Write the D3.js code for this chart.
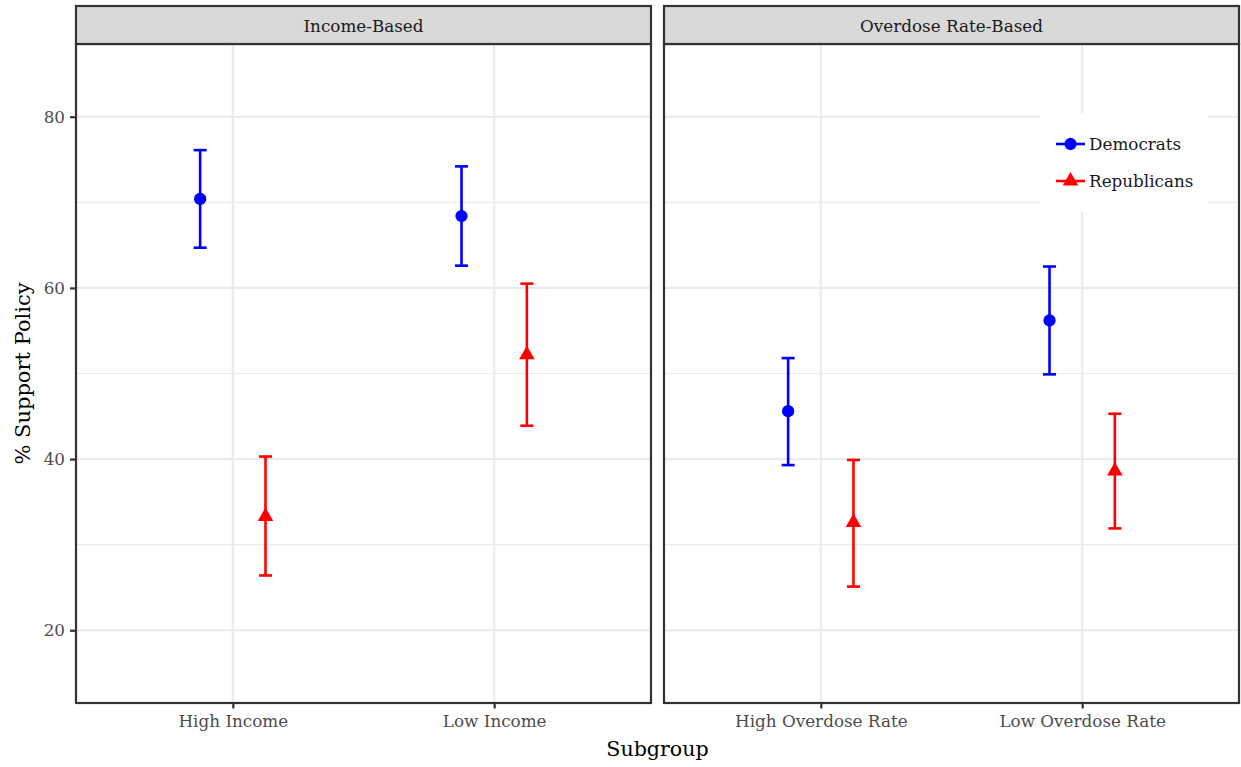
<!DOCTYPE html>
<html>
<head>
<meta charset="utf-8">
<script src="https://cdn.jsdelivr.net/npm/d3@7"></script>
<style>
  html, body { margin: 0; padding: 0; background: #fff; }
  svg { display: block; font-family: "DejaVu Serif", "Liberation Serif", serif; }
</style>
</head>
<body>
<svg id="chart" width="1241" height="767"></svg>
<script>
// ---- data ----
const facets = ["Income-Based", "Overdose Rate-Based"];
const subgroupsIncome = ["High Income", "Low Income"];
const subgroupsOverdose = ["High Overdose Rate", "Low Overdose Rate"];
const seriesNames = ["Democrats", "Republicans"];
// estimates [High, Low] per facet
const demIncome = [70.4, 68.4];
const demIncomeLo = [64.7, 62.6];
const demIncomeHi = [76.1, 74.2];
const repIncome = [33.3, 52.2];
const repIncomeLo = [26.4, 43.9];
const repIncomeHi = [40.3, 60.5];
const demOverdose = [45.6, 56.2];
const demOverdoseLo = [39.3, 49.9];
const demOverdoseHi = [51.8, 62.5];
const repOverdose = [32.6, 38.6];
const repOverdoseLo = [25.1, 31.9];
const repOverdoseHi = [39.9, 45.3];
const yTicks = [20, 40, 60, 80];
const yMinor = [30, 50, 70];

// build rows
function rows(subs, dem, demLo, demHi, rep, repLo, repHi) {
  const out = [];
  subs.forEach((s, i) => {
    out.push({sub: s, series: "Democrats", est: dem[i], lo: demLo[i], hi: demHi[i]});
    out.push({sub: s, series: "Republicans", est: rep[i], lo: repLo[i], hi: repHi[i]});
  });
  return out;
}
const panelData = [
  {facet: facets[0], subs: subgroupsIncome, rows: rows(subgroupsIncome, demIncome, demIncomeLo, demIncomeHi, repIncome, repIncomeLo, repIncomeHi)},
  {facet: facets[1], subs: subgroupsOverdose, rows: rows(subgroupsOverdose, demOverdose, demOverdoseLo, demOverdoseHi, repOverdose, repOverdoseLo, repOverdoseHi)}
];

const color = d3.scaleOrdinal().domain(seriesNames).range(["#0000FF", "#FF0000"]);
const shape = d3.scaleOrdinal().domain(seriesNames).range([d3.symbolCircle, d3.symbolTriangle]);
const shapeSize = d3.scaleOrdinal().domain(seriesNames).range([118, 105]);

const svg = d3.select("#chart");
const panelTop = 44, panelBottom = 703, stripTop = 6;
const panelX = [[76, 651], [664, 1239]];

const y = d3.scaleLinear().domain([11.5, 88.5]).range([panelBottom, panelTop]);
const dodge = d3.scalePoint().domain(seriesNames).range([-0.125, 0.125]);
const capHalf = 0.025;

panelData.forEach((p, pi) => {
  const [x0, x1] = panelX[pi];
  const x = d3.scalePoint().domain(p.subs).range([x0, x1]).padding(0.6);
  const step = x.step();
  const g = svg.append("g");

  // grid minor
  g.selectAll(".ymin").data(yMinor).join("line")
    .attr("x1", x0).attr("x2", x1)
    .attr("y1", d => y(d)).attr("y2", d => y(d))
    .attr("stroke", "#EBEBEB").attr("stroke-width", 1.1);
  // grid major
  g.selectAll(".ymaj").data(yTicks).join("line")
    .attr("x1", x0).attr("x2", x1)
    .attr("y1", d => y(d)).attr("y2", d => y(d))
    .attr("stroke", "#EBEBEB").attr("stroke-width", 2.2);
  g.selectAll(".xmaj").data(p.subs).join("line")
    .attr("x1", d => x(d)).attr("x2", d => x(d))
    .attr("y1", panelTop).attr("y2", panelBottom)
    .attr("stroke", "#EBEBEB").attr("stroke-width", 2.2);

  // legend background (second panel)
  if (pi === 1) {
    g.append("rect").attr("x", 1040).attr("y", 113).attr("width", 168).attr("height", 99)
      .attr("fill", "#fff");
  }

  // error bars
  const px = d => x(d.sub) + dodge(d.series) * step;
  const eb = g.selectAll(".eb").data(p.rows).join("g")
    .attr("stroke", d => color(d.series)).attr("stroke-width", 2.6).attr("fill", "none");
  eb.append("line").attr("x1", px).attr("x2", px)
    .attr("y1", d => y(d.lo)).attr("y2", d => y(d.hi));
  eb.append("line").attr("x1", d => px(d) - capHalf * step).attr("x2", d => px(d) + capHalf * step)
    .attr("y1", d => y(d.lo)).attr("y2", d => y(d.lo));
  eb.append("line").attr("x1", d => px(d) - capHalf * step).attr("x2", d => px(d) + capHalf * step)
    .attr("y1", d => y(d.hi)).attr("y2", d => y(d.hi));

  // points
  g.selectAll(".pt").data(p.rows).join("path")
    .attr("transform", d => `translate(${px(d)},${y(d.est)})`)
    .attr("d", d => d3.symbol().type(shape(d.series)).size(shapeSize(d.series))())
    .attr("fill", d => color(d.series));

  // panel border
  g.append("rect").attr("x", x0).attr("y", panelTop).attr("width", x1 - x0).attr("height", panelBottom - panelTop)
    .attr("fill", "none").attr("stroke", "#333333").attr("stroke-width", 2.2);

  // strip
  g.append("rect").attr("x", x0).attr("y", stripTop).attr("width", x1 - x0).attr("height", panelTop - stripTop)
    .attr("fill", "#D9D9D9").attr("stroke", "#333333").attr("stroke-width", 2.2);
  g.append("text").attr("x", (x0 + x1) / 2).attr("y", 31.5)
    .attr("text-anchor", "middle").attr("font-size", 16.8).attr("fill", "#1A1A1A")
    .text(p.facet);

  // x axis
  const xa = g.append("g").attr("transform", `translate(0,${panelBottom})`)
    .call(d3.axisBottom(x).tickSize(5.5).tickPadding(7));
  xa.select(".domain").remove();
  xa.selectAll(".tick line").attr("stroke", "#333333").attr("stroke-width", 2.2);
  xa.selectAll(".tick text").attr("font-size", 16.8).attr("fill", "#4D4D4D")
    .attr("font-family", "DejaVu Serif, serif").attr("dy", "0.71em");

  // y axis (first panel only)
  if (pi === 0) {
    const ya = g.append("g").attr("transform", `translate(${x0},0)`)
      .call(d3.axisLeft(y).tickValues(yTicks).tickSize(6).tickPadding(5));
    ya.select(".domain").remove();
    ya.selectAll(".tick line").attr("stroke", "#333333").attr("stroke-width", 2.2);
    ya.selectAll(".tick text").attr("font-size", 16.8).attr("fill", "#4D4D4D")
      .attr("font-family", "DejaVu Serif, serif");
  }
});

// legend
const leg = svg.append("g");
const legY = d3.scalePoint().domain(seriesNames).range([144, 181]);
seriesNames.forEach(s => {
  const ly = legY(s);
  leg.append("line").attr("x1", 1056).attr("x2", 1085).attr("y1", ly).attr("y2", ly)
    .attr("stroke", color(s)).attr("stroke-width", 2.6);
  leg.append("path").attr("transform", `translate(1070.5,${ly})`)
    .attr("d", d3.symbol().type(shape(s)).size(shapeSize(s))())
    .attr("fill", color(s));
  leg.append("text").attr("x", 1089).attr("y", ly).attr("dy", "0.36em")
    .attr("font-size", 16.8).attr("fill", "#1A1A1A").text(s);
});

// axis titles
svg.append("text").attr("x", (76 + 1239) / 2).attr("y", 756)
  .attr("text-anchor", "middle").attr("font-size", 20.6).attr("fill", "#000").text("Subgroup");
svg.append("text").attr("transform", `translate(30,${(panelTop + panelBottom) / 2}) rotate(-90)`)
  .attr("text-anchor", "middle").attr("font-size", 21).attr("fill", "#000").text("% Support Policy");
</script>
</body>
</html>
